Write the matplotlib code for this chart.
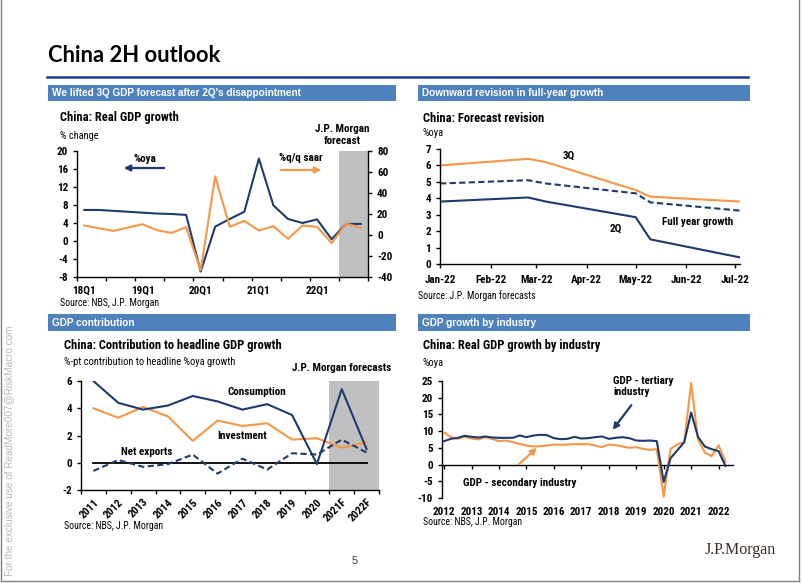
import numpy as np
import pandas as pd
import matplotlib
matplotlib.use('Agg')
import matplotlib.pyplot as plt
import matplotlib.dates as mdates
import matplotlib.font_manager as fm
from matplotlib.patches import Rectangle, FancyArrowPatch
from matplotlib.lines import Line2D

# ---------------- data ----------------
gdp_quarters = ['18Q1', '18Q2', '18Q3', '18Q4', '19Q1', '19Q2', '19Q3', '19Q4',
                '20Q1', '20Q2', '20Q3', '20Q4', '21Q1', '21Q2', '21Q3', '21Q4',
                '22Q1', '22Q2', '22Q3', '22Q4']
gdp_oya = [6.9, 6.9, 6.7, 6.5, 6.3, 6.1, 6.0, 5.8, -6.8, 3.2, 4.9, 6.5,
           18.3, 7.9, 4.9, 4.0, 4.8, 0.4, 3.8, 3.8]
gdp_saar = [9.0, 6.5, 3.9, 7.1, 10.3, 4.6, 2.0, 7.4, -33.6, 55.8, 7.8, 13.5,
            4.2, 8.4, -3.7, 9.0, 7.8, -7.8, 11.0, 6.8]
gdp_forecast_from = '22Q3'
gdp_xlabels = ['18Q1', '19Q1', '20Q1', '21Q1', '22Q1']

rev_dates = ['2022-01-01', '2022-02-24', '2022-03-07', '2022-05-01', '2022-05-10', '2022-07-04']
rev_3q = [6.0, 6.4, 6.2, 4.5, 4.1, 3.8]
rev_fy = [4.9, 5.1, 4.9, 4.3, 3.75, 3.25]
rev_2q = [3.8, 4.05, 3.8, 2.85, 1.5, 0.4]

contrib_years = ['2011', '2012', '2013', '2014', '2015', '2016', '2017', '2018',
                 '2019', '2020', '2021F', '2022F']
contrib_consumption = [6.0, 4.4, 3.9, 4.2, 4.9, 4.5, 3.9, 4.3, 3.5, -0.1, 5.4, 1.0]
contrib_investment = [4.0, 3.3, 4.1, 3.4, 1.6, 3.1, 2.7, 2.9, 1.7, 1.8, 1.1, 1.5]
contrib_netexports = [-0.6, 0.2, -0.3, -0.1, 0.6, -0.8, 0.3, -0.5, 0.7, 0.6, 1.7, 0.75]
contrib_forecast_from = '2021F'

ind_years = ['2012', '2013', '2014', '2015', '2016', '2017', '2018', '2019',
             '2020', '2021', '2022']
ind_tertiary = [7.0, 7.7, 8.0, 8.6, 8.3, 8.1, 8.4, 8.1, 8.0, 8.0, 8.0, 8.7,
                8.2, 8.7, 8.9, 8.8, 7.9, 7.6, 7.7, 8.3, 7.8, 7.9, 8.2, 8.4,
                7.7, 8.0, 8.2, 7.9, 7.2, 7.1, 7.2, 7.0, -5.2, 1.9, 4.3, 6.7,
                15.6, 8.3, 5.4, 4.6, 4.0, -0.4]
ind_secondary = [9.6, 8.2, 7.7, 8.3, 7.8, 7.5, 8.2, 7.7, 7.0, 7.2, 6.7, 6.2,
                 5.7, 5.4, 5.5, 5.7, 6.0, 5.9, 6.0, 6.1, 6.1, 6.1, 5.7, 5.2,
                 6.0, 5.8, 5.4, 5.0, 5.2, 4.7, 4.4, 4.6, -9.6, 4.7, 6.0, 6.8,
                 24.4, 7.5, 3.6, 2.5, 5.8, 0.9]

# ---------------- style ----------------
W, H = 802, 583
NAVY = '#1F3A6E'
ORANGE = '#F79646'
GREY = '#C0C0C0'
HEADER = '#4F81BD'

avail = {f.name for f in fm.fontManager.ttflist}
NARROW, K = 'Liberation Sans', 0.84
for cand in ['Liberation Sans Narrow', 'Arial Narrow', 'Roboto Condensed',
             'Open Sans Condensed']:
    if cand in avail:
        NARROW, K = cand, 1.0
        break
plt.rcParams['font.family'] = [NARROW, 'DejaVu Sans']
plt.rcParams['axes.linewidth'] = 1.0

fig = plt.figure(figsize=(W / 100, H / 100), dpi=100, facecolor='white')


def ax_rect(l, t, r, b):
    return [l / W, 1 - b / H, (r - l) / W, (b - t) / H]


def ftext(x, y, s, **kw):
    kw.setdefault('va', 'center')
    kw.setdefault('ha', 'left')
    fig.text(x / W, 1 - y / H, s, **kw)


def header(l, t, r, b, s):
    fig.patches.append(Rectangle((l / W, 1 - b / H), (r - l) / W, (b - t) / H,
                                 transform=fig.transFigure, facecolor=HEADER,
                                 edgecolor='none'))
    ftext(l + 4, (t + b) / 2, s, color='white', fontweight='bold', fontsize=7.2,
          family='Liberation Sans')


def farrow(x0, y0, x1, y1, color):
    fig.patches.append(FancyArrowPatch((x0 / W, 1 - y0 / H), (x1 / W, 1 - y1 / H),
                                       transform=fig.transFigure, arrowstyle='-|>',
                                       mutation_scale=9, lw=1.6, color=color))


def style(ax, visible=('left', 'bottom')):
    for name, sp in ax.spines.items():
        sp.set_visible(name in visible)
        sp.set_color('black')
    ax.tick_params(which='both', labelsize=8 * K, width=1, length=3,
                   direction='out', colors='black')
    ax.set_facecolor('none')


TICK_FONT = dict(fontweight='bold', fontsize=8 * K)
TITLE = dict(fontweight='bold', fontsize=9 * K)
SUB = dict(fontsize=7.5 * K)
SRC = dict(fontsize=7 * K)
ANN = dict(fontweight='bold', fontsize=8 * K)

# ---------------- page ----------------
ftext(48, 55, 'China 2H outlook', family='Lato', fontweight='bold', fontsize=15.8)
fig.add_artist(Line2D([47 / W, 748 / W], [1 - 77 / H] * 2, color='#1F3A8A', lw=1.8))
header(48, 85, 396, 101, "We lifted 3Q GDP forecast after 2Q's disappointment")
header(418, 85, 750, 101, 'Downward revision in full-year growth')
header(48, 314, 396, 331, 'GDP contribution')
header(418, 314, 750, 331, 'GDP growth by industry')

# ---------------- chart 1 ----------------
ax1 = fig.add_axes(ax_rect(77, 151, 368, 277))
x1 = np.arange(len(gdp_quarters))
f0 = gdp_quarters.index(gdp_forecast_from)
ax1.axvspan(f0 - 0.5, len(x1) - 0.5, color=GREY, lw=0, zorder=0)
ax1.plot(x1, gdp_oya, color=NAVY, lw=1.5, zorder=3)
ax1.set_xlim(-0.5, len(x1) - 0.5)
ax1.set_ylim(-8, 20)
ax1.set_yticks(np.arange(-8, 21, 4))
ax1.set_yticklabels([f'{v:d}' for v in np.arange(-8, 21, 4)], **TICK_FONT)
style(ax1, ('left', 'bottom'))
ax1.set_xticks(np.arange(-0.5, len(x1), 2))
ax1.set_xticklabels([])
ax1.set_xticks([gdp_quarters.index(q) for q in gdp_xlabels], minor=True)
ax1.set_xticklabels(gdp_xlabels, minor=True, **TICK_FONT)
ax1.tick_params(axis='x', which='minor', length=0, pad=6.5)
ax1r = ax1.twinx()
ax1r.plot(x1, gdp_saar, color=ORANGE, lw=1.5, zorder=2)
ax1r.set_ylim(-40, 80)
ax1r.set_yticks(np.arange(-40, 81, 20))
ax1r.set_yticklabels([f'{v:d}' for v in np.arange(-40, 81, 20)], **TICK_FONT)
style(ax1r, ('right',))
ax1r.set_xlim(-0.5, len(x1) - 0.5)

ftext(60, 118, 'China: Real GDP growth', **TITLE)
ftext(60, 136, '% change', **SUB)
ftext(342, 129, 'J.P. Morgan', ha='center', **ANN)
ftext(342, 141, 'forecast', ha='center', **ANN)
ftext(133, 159, '%oya', **ANN)
farrow(167, 168, 121, 168, NAVY)
ftext(279, 158, '%q/q saar', **ANN)
farrow(278, 170, 324, 170, ORANGE)
ftext(60, 303, 'Source: NBS, J.P. Morgan', **SRC)

# ---------------- chart 2 ----------------
ax2 = fig.add_axes(ax_rect(440, 149, 740, 264))
d2 = pd.to_datetime(rev_dates)
ax2.plot(d2, rev_3q, color=ORANGE, lw=1.5)
ax2.plot(d2, rev_fy, color=NAVY, lw=1.5, ls=(0, (3, 1.6)))
ax2.plot(d2, rev_2q, color=NAVY, lw=1.5)
ax2.set_xlim(pd.Timestamp('2022-01-01'), pd.Timestamp('2022-07-04'))
ax2.set_ylim(0, 7)
ax2.xaxis.set_major_locator(mdates.MonthLocator())
ax2.xaxis.set_major_formatter(mdates.DateFormatter('%b-%y'))
ax2.set_yticks(np.arange(0, 8, 1))
ax2.set_yticklabels([str(v) for v in range(8)], **TICK_FONT)
style(ax2)
for lab in ax2.get_xticklabels():
    lab.set_fontweight('bold')
ax2.tick_params(axis='x', pad=5)

ftext(423, 118, 'China: Forecast revision', **TITLE)
ftext(423, 133, '%oya', **SUB)
ftext(569, 156, '3Q', ha='center', **ANN)
ftext(662, 222, 'Full year growth', **ANN)
ftext(616, 229, '2Q', ha='center', **ANN)
ftext(418, 296, 'Source: J.P. Morgan forecasts', **SRC)

# ---------------- chart 3 ----------------
ax3 = fig.add_axes(ax_rect(81, 381, 379, 490))
x3 = np.arange(len(contrib_years))
c0 = contrib_years.index(contrib_forecast_from)
ax3.axvspan(c0 - 0.5, len(x3) - 0.5, color=GREY, lw=0, zorder=0)
ax3.plot(x3, np.zeros(len(x3)), color='black', lw=1.3, zorder=2)
ax3.plot(x3, contrib_investment, color=ORANGE, lw=1.5, zorder=3)
ax3.plot(x3, contrib_consumption, color=NAVY, lw=1.5, zorder=4)
ax3.plot(x3, contrib_netexports, color=NAVY, lw=1.5, ls=(0, (3, 1.6)), zorder=4)
ax3.set_xlim(-0.5, len(x3) - 0.5)
ax3.set_ylim(-2, 6)
ax3.set_yticks(np.arange(-2, 7, 2))
ax3.set_yticklabels([str(v) for v in range(-2, 7, 2)], **TICK_FONT)
style(ax3)
ax3.set_xticks(np.arange(-0.5, len(x3), 1))
ax3.set_xticklabels([])
ax3.set_xticks(x3, minor=True)
ax3.set_xticklabels(contrib_years, minor=True, rotation=45, ha='right', va='top',
                    rotation_mode='anchor', **TICK_FONT)
ax3.tick_params(axis='x', which='minor', length=0, pad=5)

ftext(64, 345, 'China: Contribution to headline GDP growth', **TITLE)
ftext(64, 362, '%-pt contribution to headline %oya growth', **SUB)
ftext(342, 368, 'J.P. Morgan forecasts', ha='center', **ANN)
ftext(228, 392, 'Consumption', **ANN)
ftext(217, 436, 'Investment', **ANN)
ftext(121, 452, 'Net exports', **ANN)
ftext(64, 526, 'Source: NBS, J.P. Morgan', **SRC)

# ---------------- chart 4 ----------------
ax4 = fig.add_axes(ax_rect(442, 381, 733, 498))
x4 = np.arange(len(ind_tertiary))
ax4.plot(x4, ind_secondary, color=ORANGE, lw=1.5, zorder=3)
ax4.plot(x4, ind_tertiary, color=NAVY, lw=1.5, zorder=4)
ax4.set_xlim(-0.3, 42.1)
ax4.set_ylim(-10, 25)
ax4.set_yticks(np.arange(-10, 26, 5))
ax4.set_yticklabels([str(v) for v in range(-10, 26, 5)], **TICK_FONT)
style(ax4)
ax4.spines['bottom'].set_position(('data', 0))
ypos = [4 * i for i in range(len(ind_years))]
ax4.set_xticks(ypos)
ax4.set_xticklabels([])
for p, yr in zip(ypos, ind_years):
    ax4.text(p, -(512 - 498) / (498 - 381), yr, ha='center', va='center',
             transform=ax4.get_xaxis_transform(), **TICK_FONT)

ftext(423, 346, 'China: Real GDP growth by industry', **TITLE)
ftext(423, 363, '%oya', **SUB)
ftext(613, 381, 'GDP - tertiary', **ANN)
ftext(613, 392, 'industry', **ANN)
farrow(633, 403, 611, 432, NAVY)
ftext(463, 483, 'GDP - secondary industry', **ANN)
farrow(517, 466, 539, 446, ORANGE)
ftext(423, 522, 'Source: NBS, J.P. Morgan', **SRC)

# ---------------- footer ----------------
ftext(355, 561, '5', ha='center', fontsize=8, color='#404040', family='Liberation Sans')
ftext(740, 550, 'J.P.Morgan', ha='center', fontsize=11.5, color='#3d2b24',
      family='Liberation Serif')
fig.text(9 / W, 1 - 451 / H, 'For the exclusive use of ReadMore007@RiskMacro.com',
         rotation=90, ha='center', va='center', fontsize=7.2, color='#b8b8b8',
         family='Liberation Sans')
for xs, ys in [([1, 1], [0, 581]), ([1, 799], [581, 581]), ([799, 799], [0, 581])]:
    fig.add_artist(Line2D([v / W for v in xs], [1 - v / H for v in ys],
                          color='#808080', lw=1.0))

fig.savefig('out.png', dpi=100, facecolor='white')
